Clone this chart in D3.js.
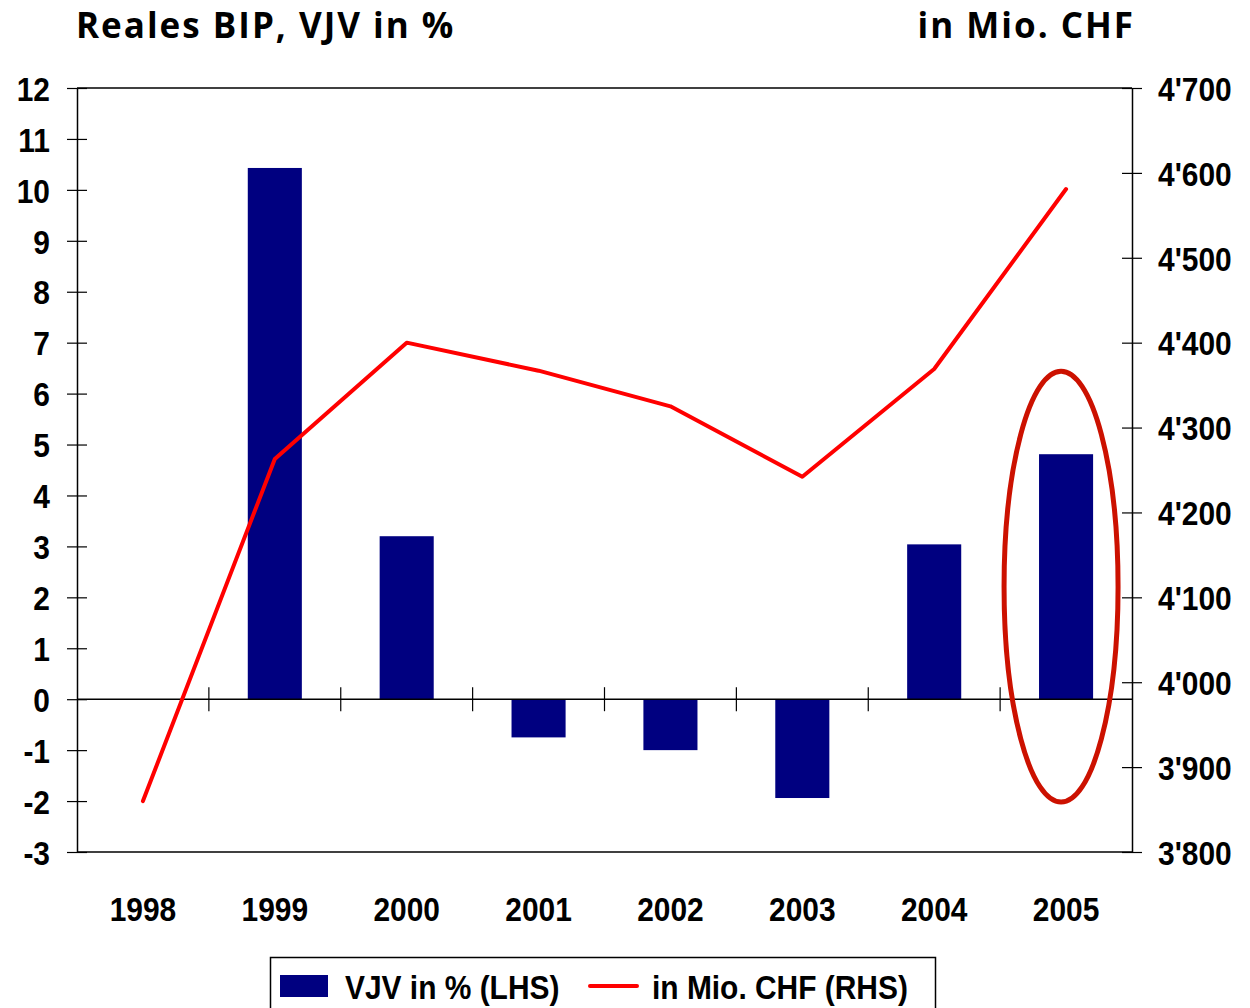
<!DOCTYPE html>
<html>
<head>
<meta charset="utf-8">
<script src="https://cdn.jsdelivr.net/npm/d3@7"></script>
<style>
  body { margin: 0; background: #fff; }
  .tick text, .lbl { font-family: "Liberation Sans", Arial, sans-serif; font-weight: bold; }
  .title { font-family: "Open Sans", "Noto Sans", sans-serif; font-weight: bold; letter-spacing: 2px; }
</style>
</head>
<body>
<div id="chart"></div>
<script>
// chart data
const years = ["1998", "1999", "2000", "2001", "2002", "2003", "2004", "2005"];
const vjv = [null, 10.43, 3.2, -0.75, -1.0, -1.94, 3.04, 4.81];        // bars, LHS
const mioChf = [3860, 4263, 4400, 4367, 4325, 4242, 4369, 4581];      // line, RHS
const leftTicks = [-3, -2, -1, 0, 1, 2, 3, 4, 5, 6, 7, 8, 9, 10, 11, 12];
const rightTicks = [3800, 3900, 4000, 4100, 4200, 4300, 4400, 4500, 4600, 4700];
// highlight ring around 2005 (in LHS units)
const ringYear = "2005";
const ringRange = [-2.02, 6.44];

const width = 1250;
const height = 1008;
const plot = {left: 77, right: 1132, top: 88, bottom: 852};
const sx = 0.88; // squeeze for the narrow label font

const svg = d3.select("#chart")
  .append("svg")
  .attr("width", width)
  .attr("height", height);

// scales
const xScale = d3.scaleBand()
  .domain(years)
  .range([plot.left, plot.right])
  .padding(0);

const yLeft = d3.scaleLinear()
  .domain([-3, 12])
  .range([plot.bottom, plot.top]);

const yRight = d3.scaleLinear()
  .domain([3800, 4700])
  .range([plot.bottom, plot.top]);

const fmtChf = d => d3.format(",")(d).replace(",", "'");

// narrow text helper: place at (x,y) and squeeze horizontally
function narrowText(parent, x, y, str, anchor) {
  return parent.append("text")
    .attr("class", "lbl")
    .attr("transform", `translate(${x},${y}) scale(${sx},1)`)
    .attr("text-anchor", anchor || "start")
    .attr("font-size", 34)
    .text(str);
}

// frame lines top / bottom
svg.append("line")
  .attr("x1", plot.left).attr("x2", plot.right)
  .attr("y1", plot.top).attr("y2", plot.top)
  .attr("stroke", "#000").attr("stroke-width", 1.5);
svg.append("line")
  .attr("x1", plot.left).attr("x2", plot.right)
  .attr("y1", plot.bottom).attr("y2", plot.bottom)
  .attr("stroke", "#000").attr("stroke-width", 1.5);

// bars
const barW = xScale.bandwidth() * 0.41;
svg.selectAll(".bar")
  .data(years.map((y, i) => ({year: y, v: vjv[i]})).filter(d => d.v !== null))
  .enter()
  .append("rect")
    .attr("class", "bar")
    .attr("x", d => xScale(d.year) + (xScale.bandwidth() - barW) / 2)
    .attr("y", d => yLeft(Math.max(0, d.v)))
    .attr("width", barW)
    .attr("height", d => Math.abs(yLeft(d.v) - yLeft(0)))
    .attr("fill", "#000080");

// zero line with category ticks
svg.append("line")
  .attr("x1", plot.left).attr("x2", plot.right)
  .attr("y1", yLeft(0)).attr("y2", yLeft(0))
  .attr("stroke", "#000").attr("stroke-width", 1.5);
svg.selectAll(".cattick")
  .data(years.slice(1))
  .enter()
  .append("line")
    .attr("x1", d => xScale(d)).attr("x2", d => xScale(d))
    .attr("y1", yLeft(0) - 12).attr("y2", yLeft(0) + 12)
    .attr("stroke", "#000").attr("stroke-width", 1.2);

// left axis
const gL = svg.append("g")
  .attr("transform", `translate(${plot.left},0)`)
  .call(d3.axisLeft(yLeft).tickValues(leftTicks).tickFormat(d => String(d))
    .tickSize(10).tickSizeOuter(0));
gL.select(".domain").attr("stroke-width", 1.5);
gL.selectAll(".tick line").attr("x1", 10).attr("x2", -10).attr("stroke-width", 1.2);
gL.selectAll(".tick text")
  .attr("x", -27 / sx)
  .attr("transform", `scale(${sx},1)`)
  .attr("dy", "0.36em")
  .attr("font-size", 34)
  .attr("fill", "#000");

// right axis
const gR = svg.append("g")
  .attr("transform", `translate(${plot.right},0)`)
  .call(d3.axisRight(yRight).tickValues(rightTicks).tickFormat(fmtChf)
    .tickSize(10).tickSizeOuter(0));
gR.select(".domain").attr("stroke-width", 1.5);
gR.selectAll(".tick line").attr("x1", -10).attr("x2", 10).attr("stroke-width", 1.2);
gR.selectAll(".tick text")
  .attr("x", 26 / sx)
  .attr("transform", `scale(${sx},1)`)
  .attr("dy", "0.36em")
  .attr("font-size", 34)
  .attr("fill", "#000");

// year labels
years.forEach(y => {
  narrowText(svg, xScale(y) + xScale.bandwidth() / 2, 921, y, "middle");
});

// line RHS
const line = d3.line()
  .x((d, i) => xScale(years[i]) + xScale.bandwidth() / 2)
  .y(d => yRight(d));
svg.append("path")
  .datum(mioChf)
  .attr("d", line)
  .attr("fill", "none")
  .attr("stroke", "#ff0000")
  .attr("stroke-width", 4)
  .attr("stroke-linejoin", "round")
  .attr("stroke-linecap", "round");

// highlight ellipse
const ringTop = yLeft(ringRange[1]);
const ringBot = yLeft(ringRange[0]);
svg.append("ellipse")
  .attr("cx", xScale(ringYear) + xScale.bandwidth() / 2 - 5)
  .attr("cy", (ringTop + ringBot) / 2)
  .attr("rx", 57)
  .attr("ry", (ringBot - ringTop) / 2)
  .attr("fill", "none")
  .attr("stroke", "#cc1100")
  .attr("stroke-width", 5);

// titles
svg.append("text")
  .attr("class", "title")
  .attr("x", 76).attr("y", 38)
  .attr("font-size", 35)
  .text("Reales BIP, VJV in %");
svg.append("text")
  .attr("class", "title")
  .attr("x", 1135).attr("y", 38)
  .attr("text-anchor", "end")
  .attr("font-size", 35)
  .text("in Mio. CHF");

// legend
const lg = svg.append("g");
lg.append("rect")
  .attr("x", 270.5).attr("y", 957.5)
  .attr("width", 665).attr("height", 60)
  .attr("fill", "#fff").attr("stroke", "#000").attr("stroke-width", 1.5);
lg.append("rect")
  .attr("x", 280).attr("y", 975)
  .attr("width", 48).attr("height", 22)
  .attr("fill", "#000080");
narrowText(lg, 345, 999, "VJV in % (LHS)");
lg.append("line")
  .attr("x1", 590).attr("x2", 637)
  .attr("y1", 986).attr("y2", 986)
  .attr("stroke", "#ff0000").attr("stroke-width", 4)
  .attr("stroke-linecap", "round");
narrowText(lg, 652, 999, "in Mio. CHF (RHS)");
</script>
</body>
</html>
